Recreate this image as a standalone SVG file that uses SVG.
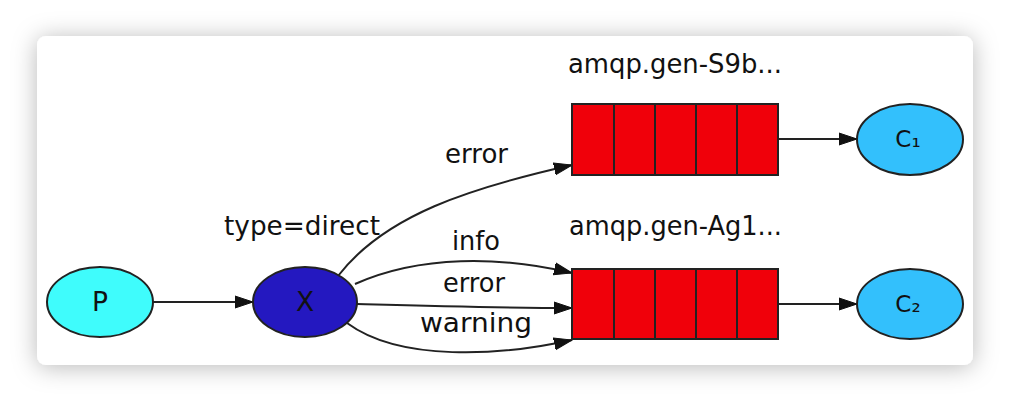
<svg xmlns="http://www.w3.org/2000/svg" width="1010" height="402" viewBox="0 0 1010 402">
<defs>
<filter id="sh" x="-10%" y="-20%" width="120%" height="140%">
<feDropShadow dx="0" dy="2" stdDeviation="12" flood-color="#000" flood-opacity="0.28"/>
</filter>
<marker id="ah" markerUnits="userSpaceOnUse" markerWidth="20" markerHeight="14" refX="18" refY="6" orient="auto" viewBox="0 0 20 12">
<path d="M0,0 L18,6 L0,12 Z" fill="#111" stroke="#111" stroke-width="1"/>
</marker>
<style>
text{font-family:"DejaVu Sans","Liberation Sans",sans-serif;fill:#111}
.lbl{font-size:26.5px}
.edge{fill:none;stroke:#222;stroke-width:2;marker-end:url(#ah)}
.q rect{fill:#f0000a;stroke:#222;stroke-width:2}
.q line{stroke:#222;stroke-width:2}
.node ellipse{stroke:#222;stroke-width:2}
</style>
</defs>
<rect x="0" y="0" width="1010" height="402" fill="#ffffff"/>
<rect x="37" y="36" width="936" height="329" rx="9" fill="#fff" filter="url(#sh)"/>

<g id="connectors">
<path class="edge" d="M153,302 L253,302"/>
<path class="edge" d="M338,276 C385,215 470,188 572,165"/>
<path class="edge" d="M355,284 C420,255 500,256 572,273"/>
<path class="edge" d="M357,304 C430,306 500,308 572,308"/>
<path class="edge" d="M347,323 C400,362 500,356 572,340"/>
<path class="edge" d="M778,139 L857,139"/>
<path class="edge" d="M778,304 L857,304"/>
<text class="lbl" x="445" y="163" textLength="63" lengthAdjust="spacingAndGlyphs">error</text>
<text class="lbl" x="452" y="250" textLength="48" lengthAdjust="spacingAndGlyphs">info</text>
<text class="lbl" x="443" y="292" textLength="62" lengthAdjust="spacingAndGlyphs">error</text>
<text class="lbl" x="420" y="332" textLength="112" lengthAdjust="spacingAndGlyphs">warning</text>
</g>

<g id="P" class="node">
<ellipse cx="100" cy="302" rx="53" ry="35" fill="#3ffcfc"/>
<text class="lbl" x="100" y="311" text-anchor="middle">P</text>
</g>

<g id="X" class="node">
<ellipse cx="305" cy="302" rx="52" ry="35" fill="#2418c0"/>
<text class="lbl" x="305" y="311" text-anchor="middle">X</text>
<text class="lbl" x="224" y="235" textLength="156" lengthAdjust="spacingAndGlyphs">type=direct</text>
</g>

<g id="Q1" class="q">
<rect x="572" y="104" width="206" height="71"/>
<line x1="614" y1="104" x2="614" y2="175"/>
<line x1="655" y1="104" x2="655" y2="175"/>
<line x1="696" y1="104" x2="696" y2="175"/>
<line x1="737" y1="104" x2="737" y2="175"/>
<text class="lbl" x="568" y="73" textLength="214" lengthAdjust="spacingAndGlyphs">amqp.gen-S9b...</text>
</g>

<g id="Q2" class="q">
<rect x="572" y="269" width="206" height="70"/>
<line x1="614" y1="269" x2="614" y2="339"/>
<line x1="655" y1="269" x2="655" y2="339"/>
<line x1="696" y1="269" x2="696" y2="339"/>
<line x1="737" y1="269" x2="737" y2="339"/>
<text class="lbl" x="569" y="235" textLength="213" lengthAdjust="spacingAndGlyphs">amqp.gen-Ag1...</text>
</g>

<g id="C1" class="node">
<ellipse cx="910" cy="139.5" rx="53" ry="35.5" fill="#33c0fc"/>
<text x="908" y="147" text-anchor="middle" style="font-size:23px">C₁</text>
</g>

<g id="C2" class="node">
<ellipse cx="910" cy="304" rx="53" ry="35" fill="#33c0fc"/>
<text x="908" y="312" text-anchor="middle" style="font-size:23px">C₂</text>
</g>
</svg>
